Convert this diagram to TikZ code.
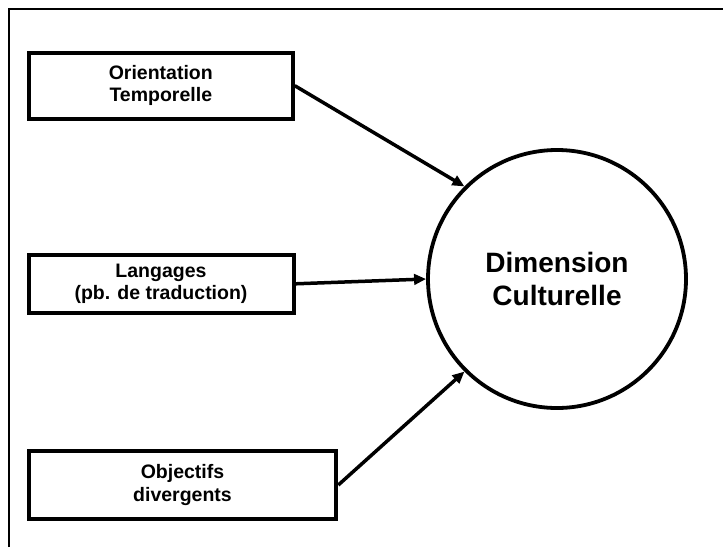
\documentclass[tikz,border=0pt]{standalone}
\usepackage{fontspec}
\setmainfont{Liberation Sans}
\usetikzlibrary{arrows.meta}

\tikzset{
  factor/.style={draw, line width=4pt, rectangle, inner sep=0pt, align=center,
    font=\fontsize{19.5}{22.5}\selectfont\bfseries},
  hub/.style={draw, line width=3.8pt, circle, inner sep=0pt, minimum size=258pt,
    align=center, font=\fontsize{28}{33}\selectfont\bfseries},
  link/.style={line width=3.5pt, -{Triangle[length=12pt,width=10.5pt]}},
  frame/.style={line width=2.2pt}
}

\begin{document}
\begin{tikzpicture}[x=1pt, y=-1pt]
  \useasboundingbox (0,0) rectangle (723,547);
  \fill[white] (0,0) rectangle (723,547);

  % open frame: top and left edges only
  \coordinate (fbl) at (9.3,547);
  \coordinate (ftl) at (9.3,9.2);
  \coordinate (ftr) at (723,9.2);
  \draw[frame] (fbl) -- (ftl) -- (ftr);

  % influencing factors
  \node[factor, minimum width=264pt, minimum height=66pt] (orient) at (160.8,85.7)
    {Orientation\\Temporelle};
  \node[factor, minimum width=265pt, minimum height=58.5pt] (lang) at (161,283.8)
    {Langages\\(pb. de traduction)};
  \node[factor, minimum width=307.6pt, minimum height=67.5pt] (obj) at (182.5,485)
    {Objectifs\\divergents};

  % central dimension
  \node[hub] (dim) at (557,279) {Dimension\\Culturelle};

  % links
  \draw[link] (orient.east) -- (dim.135);
  \draw[link] (lang.east) -- (dim.180);
  \draw[link] (obj.east) -- (dim.225);
\end{tikzpicture}
\end{document}
